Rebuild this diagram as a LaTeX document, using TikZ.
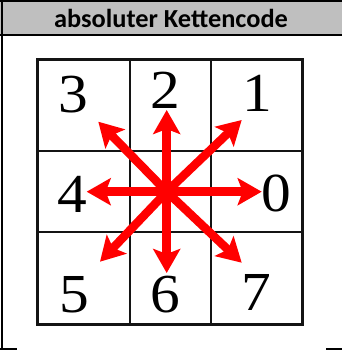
\documentclass[tikz,border=0pt]{standalone}
\usepackage{fontspec}
\setmainfont{Liberation Serif}
\newfontfamily\headfont{Carlito}
\usetikzlibrary{arrows.meta}
\definecolor{hdrgray}{RGB}{191,191,191}
\definecolor{gridblk}{RGB}{20,20,20}
\definecolor{arrred}{RGB}{255,0,0}
\tikzset{
  border/.style={line width=2.3pt, black},
  outergrid/.style={line width=3pt, gridblk},
  innergrid/.style={line width=2pt, gridblk},
  digit/.style={inner sep=0pt, font=\fontsize{55}{55}\selectfont, xscale=1.08},
  dirarrow/.style={line width=8.5pt, arrred, -{Stealth[length=24pt,width=27pt,inset=5pt]}},
  header/.style={inner sep=0pt, anchor=base, font=\headfont\bfseries\fontsize{26}{26}\selectfont}
}
\begin{document}
\begin{tikzpicture}[x=1pt,y=-1pt]
\useasboundingbox (0,0) rectangle (342,350);
% table
\fill[hdrgray] (0,0) rectangle (342,35);
\draw[border] (0,1.1) -- (342,1.1);
\draw[border] (0,35.2) -- (342,35.2);
\draw[border] (2,0) -- (2,350);
\draw[border] (0,348.9) -- (342,348.9);
\fill[white] (16.7,36.5) rectangle (325.7,350);
\node[header] (title) at (171,27.5) {\resizebox{234pt}{\height}{absoluter Kettencode}};
% grid
\draw[innergrid] (130,60) -- (130,324);
\draw[innergrid] (211,60) -- (211,324);
\draw[innergrid] (37.3,151) -- (302.7,151);
\draw[innergrid] (37.3,231.7) -- (302.7,231.7);
\draw[outergrid] (37.3,60) rectangle (302.7,324);
% digits
\node[digit] (d3) at (73.3,95) {3};
\node[digit] (d2) at (165,90.5) {2};
\node[digit] (d1) at (257,93.5) {1};
\node[digit] (d4) at (72.5,194) {4};
\node[digit] (d0) at (276,193.5) {0};
\node[digit] (d5) at (74,294.5) {5};
\node[digit] (d6) at (165,295) {6};
\node[digit] (d7) at (256.5,292.5) {7};
% arrows
\coordinate (c) at (166.7,191.7);
\coordinate (t0) at (261.7,191.7);
\coordinate (t1) at (241.7,120);
\coordinate (t2) at (166.7,110);
\coordinate (t3) at (98.3,121.7);
\coordinate (t4) at (86.7,191.7);
\coordinate (t5) at (100,261.7);
\coordinate (t6) at (166.7,273);
\coordinate (t7) at (241.7,262.7);
\foreach \t in {t0,t1,t2,t3,t4,t5,t6,t7}{\draw[dirarrow] (c) -- (\t);}
\end{tikzpicture}
\end{document}
